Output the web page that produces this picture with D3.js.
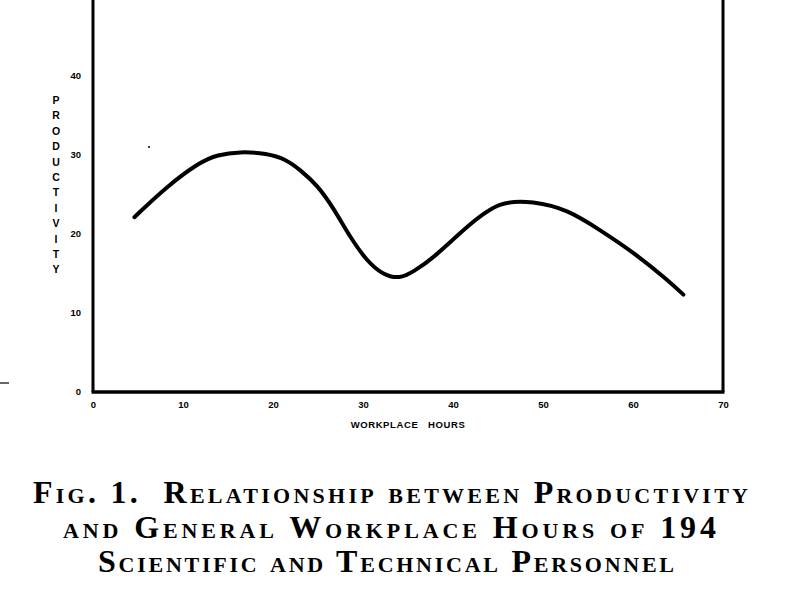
<!DOCTYPE html>
<html>
<head>
<meta charset="utf-8">
<script src="https://cdn.jsdelivr.net/npm/d3@7"></script>
<style>
  html, body { margin: 0; padding: 0; background: #fff; }
  svg { display: block; }
</style>
</head>
<body>
<svg id="chart" width="800" height="600"></svg>
<script>
// ---- data ----
const hours = [4.6, 8.2, 11.9, 13.8, 16.3, 19.3, 21.5, 23.0, 24.9, 26.7, 28.6, 30.4, 32.2, 34.1, 35.6, 37.8, 41.6, 45.2, 48.9, 52.7, 56.3, 60.0, 63.8, 65.6];
const productivity = [22.0, 25.9, 29.0, 29.9, 30.3, 30.1, 29.3, 28.0, 26.1, 23.2, 19.4, 16.5, 14.7, 14.2, 15.1, 16.8, 20.9, 24.1, 24.0, 23.0, 20.4, 17.6, 14.1, 12.2];
const xTicks = [0, 10, 20, 30, 40, 50, 60, 70];
const yTicks = [0, 10, 20, 30, 40, 50];
const xTitle = "WORKPLACE HOURS";
const yTitle = "PRODUCTIVITY";
const captionLines = [
  "Fig. 1.  Relationship between Productivity",
  "and General Workplace Hours of 194",
  "Scientific and Technical Personnel"
];

// ---- layout ----
const svg = d3.select("#chart");
const left = 93, right = 723, bottom = 392, topY = -4;
const x = d3.scaleLinear().domain([0, 70]).range([left, right]);
const y = d3.scaleLinear().domain([0, 50]).range([391, topY]);

// frame: left axis, bottom axis, right border
svg.append("line").attr("x1", left).attr("x2", left).attr("y1", 0).attr("y2", bottom)
  .attr("stroke", "#000").attr("stroke-width", 3);
svg.append("line").attr("x1", left - 1.5).attr("x2", right + 1.5).attr("y1", bottom).attr("y2", bottom)
  .attr("stroke", "#000").attr("stroke-width", 3.5);
svg.append("line").attr("x1", right).attr("x2", right).attr("y1", 0).attr("y2", bottom)
  .attr("stroke", "#000").attr("stroke-width", 3);

// x tick labels
const xAxis = d3.axisBottom(x).tickValues(xTicks).tickSize(0).tickPadding(0).tickFormat(d3.format("d"));
const gx = svg.append("g").attr("transform", `translate(0,${bottom + 7})`).call(xAxis);
gx.select(".domain").remove();
gx.selectAll("text").attr("font-family", "Liberation Sans, Arial, sans-serif")
  .attr("font-weight", "bold").attr("font-size", 9.5).attr("fill", "#000").attr("dy", "0.9em");

// y tick labels
const yAxis = d3.axisLeft(y).tickValues(yTicks).tickSize(0).tickPadding(0).tickFormat(d3.format("d"));
const gy = svg.append("g").attr("transform", `translate(${left - 12},0)`).call(yAxis);
gy.select(".domain").remove();
gy.selectAll("text").attr("font-family", "Liberation Sans, Arial, sans-serif")
  .attr("font-weight", "bold").attr("font-size", 9.5).attr("fill", "#000");

// axis titles
svg.append("text").attr("x", 408).attr("y", 428).attr("text-anchor", "middle")
  .attr("font-family", "Liberation Sans, Arial, sans-serif").attr("font-weight", "bold")
  .attr("font-size", 9.5).attr("letter-spacing", 0.6).text(xTitle.replace(" ", "\u00A0\u00A0\u00A0"));

const yt = svg.append("text").attr("font-family", "Liberation Sans, Arial, sans-serif")
  .attr("font-weight", "bold").attr("font-size", 10.5).attr("text-anchor", "middle");
yTitle.split("").forEach((ch, i) => {
  yt.append("tspan").attr("x", 56).attr("y", 104 + i * 15.4).text(ch);
});

// small scan artefacts
svg.append("line").attr("x1", 0).attr("x2", 9).attr("y1", 383).attr("y2", 383)
  .attr("stroke", "#000").attr("stroke-width", 1.2);
svg.append("circle").attr("cx", 149).attr("cy", 147).attr("r", 1).attr("fill", "#000");

// curve
const line = d3.line().x((d, i) => x(hours[i])).y(d => y(d)).curve(d3.curveBasis);
svg.append("path").datum(productivity).attr("d", line)
  .attr("fill", "none").attr("stroke", "#000").attr("stroke-width", 4)
  .attr("stroke-linecap", "round").attr("stroke-linejoin", "round");

// caption
const capSpecs = [
  { x0: 33, x1: 748, yb: 503 },
  { x0: 63, x1: 716, yb: 538 },
  { x0: 98, x1: 674, yb: 572 }
];
captionLines.forEach((t, i) => {
  const s = capSpecs[i];
  svg.append("text").attr("x", s.x0).attr("y", s.yb)
    .attr("font-family", "Liberation Serif, 'DejaVu Serif', serif")
    .attr("font-size", 32).attr("font-weight", "bold").attr("font-variant", "small-caps")
    .attr("fill", "#000")
    .attr("textLength", s.x1 - s.x0).attr("lengthAdjust", "spacing")
    .attr("xml:space", "preserve").style("white-space", "pre")
    .text(t);
});
</script>
</body>
</html>
